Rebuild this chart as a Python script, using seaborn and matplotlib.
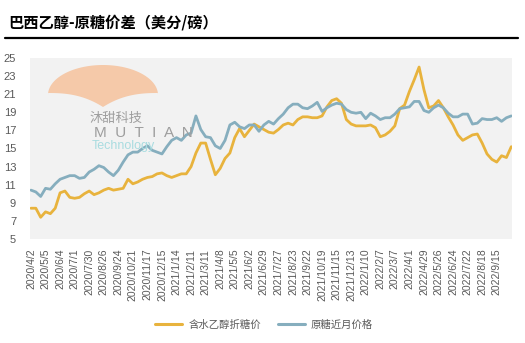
import numpy as np
import pandas as pd
import matplotlib
matplotlib.use("Agg")
import matplotlib.pyplot as plt
import seaborn as sns
from matplotlib.patches import Polygon
from matplotlib.lines import Line2D

# ---------------- data ----------------
tick_labels = ["2020/4/2", "2020/5/5", "2020/6/4", "2020/7/1", "2020/7/30", "2020/8/26",
               "2020/9/24", "2020/10/21", "2020/11/17", "2020/12/15", "2021/1/14", "2021/2/11",
               "2021/3/11", "2021/4/8", "2021/5/5", "2021/6/2", "2021/6/29", "2021/7/27",
               "2021/8/23", "2021/9/22", "2021/10/19", "2021/11/15", "2021/12/13", "2022/1/10",
               "2022/2/7", "2022/3/7", "2022/4/1", "2022/4/29", "2022/5/26", "2022/6/24",
               "2022/7/22", "2022/8/18", "2022/9/15"]

ethanol = [8.4, 8.4, 7.4, 8.0, 7.8, 8.4, 10.1, 10.3, 9.6, 9.5,
           9.6, 10.0, 10.3, 9.9, 10.1, 10.4, 10.6, 10.4, 10.5, 10.6,
           11.6, 11.1, 11.3, 11.6, 11.8, 11.9, 12.2, 12.3, 12.0, 11.8,
           12.0, 12.2, 12.2, 13.0, 14.5, 15.6, 15.6, 13.8, 12.1, 12.8,
           13.9, 14.5, 16.2, 17.2, 16.3, 17.0, 17.7, 17.4, 17.1, 16.8,
           16.7, 17.1, 17.6, 17.8, 17.6, 18.2, 18.5, 18.5, 18.4, 18.4,
           18.6, 19.6, 20.3, 20.5, 20.0, 18.2, 17.7, 17.5, 17.5, 17.5,
           17.6, 17.3, 16.3, 16.5, 16.9, 17.5, 19.4, 19.8, 21.3, 22.6,
           24.0, 21.5, 19.5, 19.7, 20.3, 19.5, 18.5, 17.6, 16.5, 15.9,
           16.2, 16.5, 16.6, 15.6, 14.4, 13.8, 13.5, 14.2, 14.0, 15.2]

sugar = [10.4, 10.2, 9.7, 10.6, 10.5, 11.1, 11.6, 11.8, 12.0, 12.0,
         11.7, 11.8, 12.4, 12.7, 13.1, 12.9, 12.4, 12.0, 12.6, 13.5,
         14.3, 14.6, 14.6, 15.0, 15.3, 14.8, 14.6, 14.4, 15.2, 15.9,
         16.2, 15.9, 16.5, 16.7, 18.6, 17.1, 16.3, 16.2, 15.3, 15.0,
         15.9, 17.6, 17.9, 17.4, 17.2, 17.6, 17.6, 16.9, 17.6, 18.0,
         17.7, 18.3, 18.8, 19.5, 19.9, 19.9, 19.5, 19.4, 19.7, 20.1,
         19.1, 19.5, 19.8, 20.0, 19.9, 19.3, 19.0, 18.9, 19.0, 18.3,
         18.9, 18.6, 18.2, 18.4, 18.4, 18.8, 19.4, 19.5, 19.6, 20.2,
         20.2, 19.2, 19.0, 19.5, 19.8, 19.5, 18.9, 18.5, 18.5, 18.8,
         18.8, 17.7, 17.8, 18.3, 18.2, 18.2, 18.4, 18.0, 18.4, 18.6]

series_names = ["含水乙醇折糖价", "原糖近月价格"]
colors = ["#E8B33D", "#86AEBE"]
title = "巴西乙醇-原糖价差（美分/磅）"
points_per_tick = 3

# ---------------- build long table ----------------
idx = np.arange(len(ethanol))
df = pd.DataFrame({
    "idx": np.concatenate([idx, idx]),
    "value": ethanol + sugar,
    "series": [series_names[0]] * len(ethanol) + [series_names[1]] * len(sugar),
})

sns.set_theme(style="white")
plt.rcParams["font.family"] = ["Liberation Sans", "Noto Sans CJK SC", "DejaVu Sans"]

W, H = 525, 343
fig = plt.figure(figsize=(W / 100, H / 100), dpi=100)
ax = fig.add_axes([30 / W, 1 - 239 / H, (512 - 30) / W, (239 - 58) / H])
ax.set_facecolor("#F2F2F2")

# ---------------- watermark (decoration) ----------------
def fx(x):
    return x / W

def fy(y):
    return 1 - y / H

t = np.linspace(0, np.pi, 60)
cx, cy = 103, 95
arc = [(fx(cx - 55 * np.cos(a)), fy(cy - 30 * np.sin(a))) for a in t]
lower_r = [(fx(158 - (158 - 103) * s), fy(93 + 15 * s ** 0.5 + 0 * s)) for s in np.linspace(0, 1, 20)]
lower_r = [(fx(158 - 55 * s), fy(93 + 14 * (s ** 2.5))) for s in np.linspace(0, 1, 25)]
lower_l = [(fx(103 - 55 * (1 - s)), fy(93 + 14 * ((1 - s) ** 0 * s ** 0) * 0 + 14 * ((1 - s) ** 2.5 * 0 + 1) * 0)) for s in np.linspace(0, 1, 2)]
left_pts = [(fx(48 + 55 * s), fy(93 + 14 * (s ** 2.5))) for s in np.linspace(0, 1, 25)]
poly_pts = arc + lower_r + left_pts[::-1]
fig.patches.append(Polygon(poly_pts, closed=True, transform=fig.transFigure,
                           facecolor="#F5C9A9", edgecolor="none", zorder=0.5))
fig.text(fx(116), fy(118), "沐甜科技", color="#9E9E9E", fontsize=9.5,
         family=["Noto Sans CJK SC"], ha="center", va="center", zorder=0.6)
fig.text(fx(143), fy(133), "M  U  T  I  A  N", color="#9E9E9E", fontsize=11,
         ha="center", va="center", zorder=0.6)
fig.text(fx(92), fy(146), "Technology", color="#A9DCE0", fontsize=9,
         ha="left", va="center", zorder=0.6)

# ---------------- lines ----------------
sns.lineplot(data=df, x="idx", y="value", hue="series", palette=colors,
             hue_order=series_names, linewidth=2.0, ax=ax, legend=False, zorder=3)

ax.set_xlim(-0.2, 99.15)
ax.set_ylim(5, 25)
ax.set_yticks(np.arange(5, 26, 2))
ax.set_xticks(np.arange(len(tick_labels)) * points_per_tick)
ax.set_xticklabels(tick_labels, rotation=90, fontsize=7.5, color="#595959")
ax.tick_params(axis="y", labelsize=8, colors="#595959", length=0, pad=10)
ax.tick_params(axis="x", length=0, pad=7)
ax.set_xlabel("")
ax.set_ylabel("")
for s in ax.spines.values():
    s.set_visible(False)
ax.grid(False)

# ---------------- title + rule ----------------
fig.text(fx(8), fy(22), title, fontsize=11, fontweight="bold", color="#000000",
         family=["Noto Sans CJK SC"], ha="left", va="center")
fig.add_artist(Line2D([fx(5), fx(518)], [fy(38), fy(38)], color="black",
                      linewidth=1.6, transform=fig.transFigure))

# ---------------- legend ----------------
handles = [Line2D([0], [0], color=c, linewidth=2.2) for c in colors]
leg = fig.legend(handles, series_names, loc="center", bbox_to_anchor=(fx(264), fy(325)),
                 ncol=2, frameon=False, handlelength=2.6, handletextpad=0.6,
                 columnspacing=1.6, prop={"family": ["Noto Sans CJK SC"], "size": 7.5})
for t_ in leg.get_texts():
    t_.set_color("#595959")

fig.savefig("out.png", dpi=100)
